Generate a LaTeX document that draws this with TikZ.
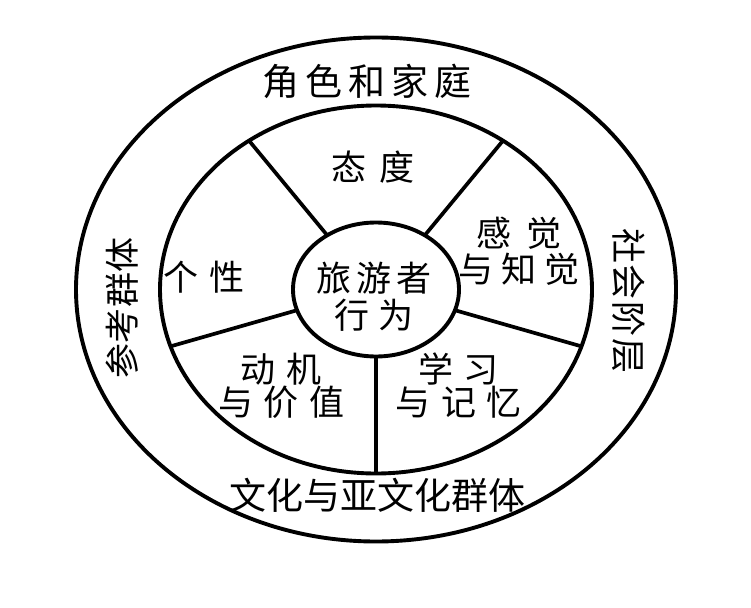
\documentclass[tikz,border=0pt]{standalone}
\usepackage{fontspec}
\newfontfamily\cjk{Noto Sans CJK SC}
\newcommand\kg[1]{\hspace{#1pt}}
\begin{document}
\begin{tikzpicture}[x=1pt,y=-1pt,
  ring/.style={draw=black,line width=3.9pt},
  spoke/.style={draw=black,line width=3.7pt},
  lbl/.style={font=\cjk\fontsize{35}{38}\selectfont,inner sep=0pt,align=center},
  big/.style={font=\cjk\fontsize{37}{40}\selectfont,inner sep=0pt},
  side/.style={font=\cjk\fontsize{35}{38}\selectfont,inner sep=0pt}]
\useasboundingbox[fill=white] (0,0) rectangle (751,607);
\coordinate (c) at (376,289.5);
\draw[ring] (c) ellipse [x radius=300,y radius=252];
\draw[ring] (c) ellipse [x radius=216,y radius=184];
\draw[ring] (c) ellipse [x radius=83,y radius=67];
\foreach \t [count=\i] in {-90,-18,54,126,198}{
  \coordinate (a\i) at ({376+83*cos(\t)},{289.5-67*sin(\t)});
  \coordinate (b\i) at ({376+216*cos(\t)},{289.5-184*sin(\t)});
  \draw[spoke] (a\i) -- (b\i);
}
\node[big] (role) at (367,81) {角\kg{6}色\kg{6}和\kg{6}家\kg{6}庭};
\node[big] (culture) at (377,495) {文化与亚文化群体};
\node[side,rotate=90] (refgrp) at (122,308) {参\kg{0.5}考\kg{0.5}群\kg{0.5}体};
\node[side,rotate=-90] (class) at (629,301) {社\kg{2}会\kg{2}阶\kg{2}层};
\node[lbl] (attitude) at (373,167) {态\kg{13}度};
\node[lbl] (person) at (204,277) {个\kg{11}性};
\node[lbl,font=\cjk\fontsize{35}{36}\selectfont] (percep) at (519,251) {感\kg{15}觉\\与\kg{8}知\kg{8}觉};
\node[lbl,font=\cjk\fontsize{35}{37}\selectfont] (tourist) at (374,296.5) {旅\kg{5.5}游\kg{5.5}者\\行\kg{8.5}为};
\node[lbl,font=\cjk\fontsize{35}{33}\selectfont] (motive) at (281,386) {动\kg{10.5}机\\与\kg{10.5}价\kg{10.5}值};
\node[lbl,font=\cjk\fontsize{35}{33}\selectfont] (learn) at (458.5,385.5) {学\kg{10.5}习\\与\kg{10.5}记\kg{10.5}忆};
\end{tikzpicture}
\end{document}
